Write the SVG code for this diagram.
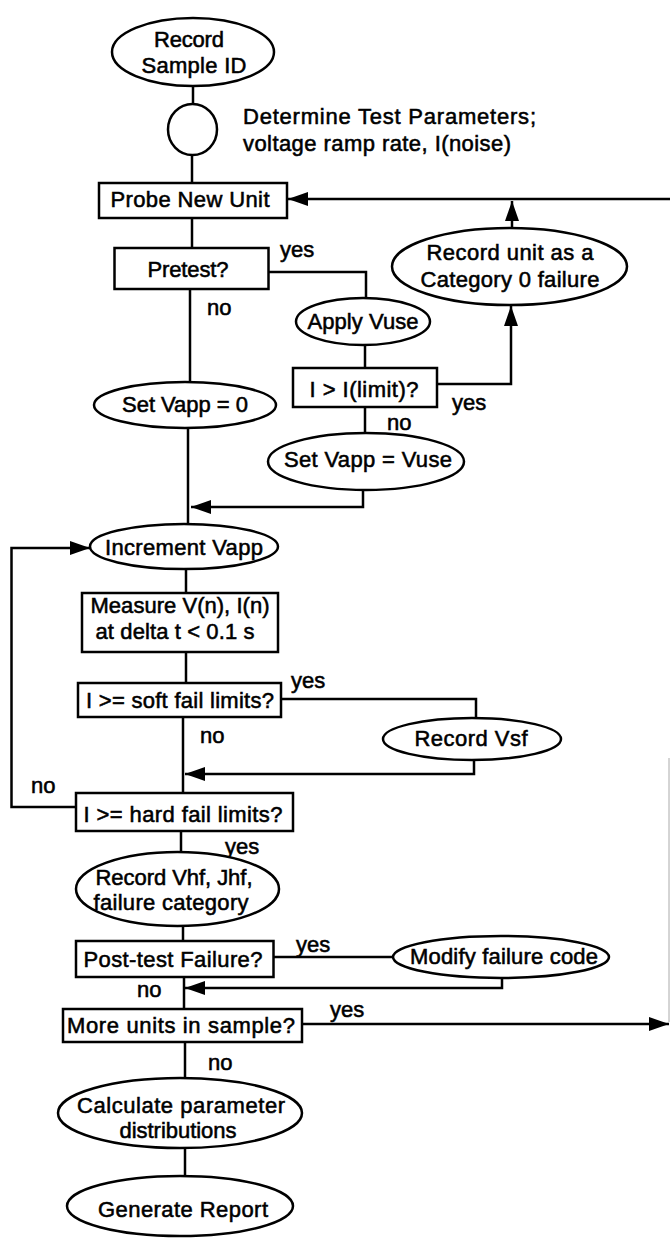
<svg xmlns="http://www.w3.org/2000/svg" width="670" height="1239" viewBox="0 0 670 1239">
<style>
.n{fill:#fff;stroke:#000;stroke-width:2.5}
.c{fill:none;stroke:#000;stroke-width:2.5}
text{font-family:"Liberation Sans",Arial,sans-serif;font-size:22px;fill:#000;stroke:#000;stroke-width:0.55}
.m{text-anchor:middle}
</style>
<defs>
<marker id="ah" markerWidth="20" markerHeight="14" refX="20" refY="7" orient="auto" markerUnits="userSpaceOnUse">
<path d="M0,0 L20,7 L0,14 z" fill="#000"/>
</marker>
</defs>
<rect width="670" height="1239" fill="#fff"/>
<g id="connectors">
<path class="c" d="M193,86 V104"/>
<path class="c" d="M192,155 V183"/>
<path class="c" d="M670,199 H288" stroke-width="3" marker-end="url(#ah)"/>
<path class="c" d="M512,228 V201" marker-end="url(#ah)"/>
<path class="c" d="M192,218 V248"/>
<path class="c" d="M268,272 H366 V298"/>
<path class="c" d="M190,289 V382"/>
<path class="c" d="M365,345 V368"/>
<path class="c" d="M437,384 H511 V306" marker-end="url(#ah)"/>
<path class="c" d="M365,407 V433"/>
<path class="c" d="M363,490 V507 H191" marker-end="url(#ah)"/>
<path class="c" d="M188,428 V524"/>
<path class="c" d="M76,807 H11.5 V548 H90" marker-end="url(#ah)"/>
<path class="c" d="M186,569 V593"/>
<path class="c" d="M186,652 V683"/>
<path class="c" d="M281,699 H476 V718"/>
<path class="c" d="M474,760 V774 H185" marker-end="url(#ah)"/>
<path class="c" d="M183,717 V793"/>
<path class="c" d="M181,831 V853"/>
<path class="c" d="M183,926 V941"/>
<path class="c" d="M273,957 H393"/>
<path class="c" d="M502,978 V988 H185" marker-end="url(#ah)"/>
<path class="c" d="M184,977 V1009"/>
<path class="c" d="M302,1024 H669" marker-end="url(#ah)"/>
<path d="M669,758 V1022" stroke="#aaa" stroke-width="1" fill="none"/>
<path class="c" d="M185,1042 V1078"/>
<path class="c" d="M185,1148 V1176"/>
</g>
<g id="labels">
<text x="280" y="257">yes</text>
<text x="207" y="315">no</text>
<text x="452" y="410">yes</text>
<text x="387" y="430">no</text>
<text x="291" y="688">yes</text>
<text x="200" y="743">no</text>
<text x="31" y="793">no</text>
<text x="225" y="854">yes</text>
<text x="296" y="952">yes</text>
<text x="137" y="997">no</text>
<text x="330" y="1017">yes</text>
<text x="208" y="1070">no</text>
</g>
<g id="record-sample">
<ellipse class="n" cx="193" cy="52" rx="81" ry="34"/>
<text class="m" x="189" y="47" textLength="70">Record</text>
<text class="m" x="194" y="73" textLength="105">Sample ID</text>
</g>
<g id="determine">
<ellipse class="n" cx="192.5" cy="129.5" rx="24.5" ry="25.5"/>
<text x="243" y="124" textLength="293">Determine Test Parameters;</text>
<text x="243" y="151" textLength="268">voltage ramp rate, I(noise)</text>
</g>
<g id="probe">
<rect class="n" x="99" y="183" width="188" height="35"/>
<text class="m" x="190" y="207" textLength="159">Probe New Unit</text>
</g>
<g id="category0">
<ellipse class="n" cx="509.5" cy="266.5" rx="117.5" ry="38.5"/>
<text class="m" x="510" y="260" textLength="167">Record unit as a</text>
<text class="m" x="510" y="287" textLength="179">Category 0 failure</text>
</g>
<g id="pretest">
<rect class="n" x="114.5" y="248" width="154" height="41"/>
<text class="m" x="188" y="277" textLength="81">Pretest?</text>
</g>
<g id="apply-vuse">
<ellipse class="n" cx="363" cy="321.5" rx="67" ry="23.5"/>
<text class="m" x="363" y="329" textLength="111">Apply Vuse</text>
</g>
<g id="ilimit">
<rect class="n" x="293" y="368" width="144" height="39"/>
<text class="m" x="364" y="397" textLength="109">I &gt; I(limit)?</text>
</g>
<g id="set-vuse">
<ellipse class="n" cx="366" cy="461.5" rx="98" ry="28.5"/>
<text class="m" x="368" y="467" textLength="168">Set Vapp = Vuse</text>
</g>
<g id="set-zero">
<ellipse class="n" cx="185" cy="405" rx="91" ry="23"/>
<text class="m" x="185" y="412" textLength="126">Set Vapp = 0</text>
</g>
<g id="increment">
<ellipse class="n" cx="184" cy="546.5" rx="94" ry="22.5"/>
<text class="m" x="184" y="555" textLength="158">Increment Vapp</text>
</g>
<g id="measure">
<rect class="n" x="82" y="593" width="196" height="59"/>
<text class="m" x="180" y="613" textLength="179">Measure V(n), I(n)</text>
<text class="m" x="175" y="639" textLength="159">at delta t &lt; 0.1 s</text>
</g>
<g id="soft-fail">
<rect class="n" x="78" y="683" width="203" height="34"/>
<text class="m" x="180" y="708" textLength="188">I &gt;= soft fail limits?</text>
</g>
<g id="record-vsf">
<ellipse class="n" cx="472" cy="739" rx="89" ry="21"/>
<text class="m" x="471" y="746" textLength="113">Record Vsf</text>
</g>
<g id="hard-fail">
<rect class="n" x="76" y="793" width="217" height="38"/>
<text class="m" x="183" y="822" textLength="199">I &gt;= hard fail limits?</text>
</g>
<g id="record-vhf">
<ellipse class="n" cx="177.5" cy="889" rx="101.5" ry="37"/>
<text class="m" x="174" y="885" textLength="157">Record Vhf, Jhf,</text>
<text class="m" x="171" y="910" textLength="155">failure category</text>
</g>
<g id="post-test">
<rect class="n" x="76" y="941" width="197.5" height="36"/>
<text class="m" x="173" y="967" textLength="179">Post-test Failure?</text>
</g>
<g id="modify">
<ellipse class="n" cx="501" cy="957" rx="108" ry="21"/>
<text class="m" x="504" y="964" textLength="188">Modify failure code</text>
</g>
<g id="more-units">
<rect class="n" x="63" y="1009" width="239" height="33"/>
<text class="m" x="181" y="1033" textLength="228">More units in sample?</text>
</g>
<g id="calculate">
<ellipse class="n" cx="180" cy="1113" rx="122" ry="35"/>
<text class="m" x="181" y="1113" textLength="208">Calculate parameter</text>
<text class="m" x="178" y="1138" textLength="117">distributions</text>
</g>
<g id="report">
<ellipse class="n" cx="180" cy="1206" rx="113" ry="30"/>
<text class="m" x="183" y="1217" textLength="170">Generate Report</text>
</g>
</svg>
